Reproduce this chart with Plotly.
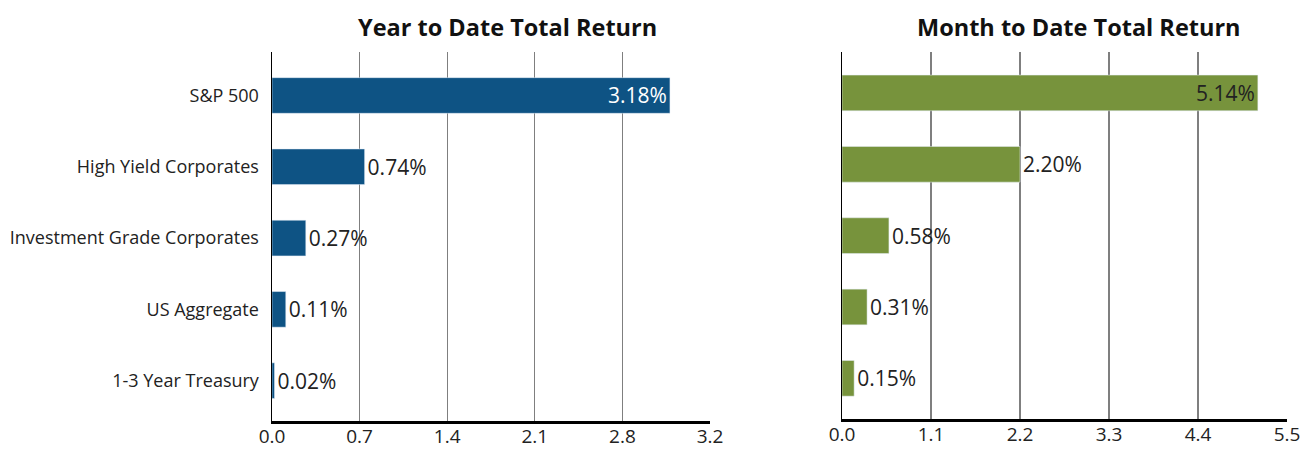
import plotly.graph_objects as go

categories = ["S&P 500", "High Yield Corporates", "Investment Grade Corporates",
              "US Aggregate", "1-3 Year Treasury"]
ytd_values = [3.18, 0.74, 0.27, 0.11, 0.02]
mtd_values = [5.14, 2.20, 0.58, 0.31, 0.15]
ytd_title = "Year to Date Total Return"
mtd_title = "Month to Date Total Return"
ytd_tickvals = [0, 0.7, 1.4, 2.1, 2.8, 3.5]
ytd_ticktext = ["0.0", "0.7", "1.4", "2.1", "2.8", "3.2"]
mtd_tickvals = [0, 1.1, 2.2, 3.3, 4.4, 5.5]
mtd_ticktext = ["0.0", "1.1", "2.2", "3.3", "4.4", "5.5"]

W, H = 1302, 449
FONT = "Open Sans"
TXT = "#222222"
BLUE = "#0E5384"
GREEN = "#77933C"

def px_x(a, b):
    return [a / W, b / W]

def px_y(top, bottom):
    return [1 - bottom / H, 1 - top / H]

fig = go.Figure()

ytd_pos = ["inside" if v == max(ytd_values) else "outside" for v in ytd_values]
mtd_pos = ["inside" if v == max(mtd_values) else "outside" for v in mtd_values]

fig.add_trace(go.Bar(
    x=ytd_values, y=categories, orientation="h", marker_color=BLUE, width=0.5,
    text=[f"{v:.2f}%" for v in ytd_values], textposition=ytd_pos,
    insidetextanchor="end", constraintext="none",
    insidetextfont=dict(family=FONT, size=21, color="white"),
    outsidetextfont=dict(family=FONT, size=21, color=TXT),
    cliponaxis=False, xaxis="x", yaxis="y", showlegend=False, hoverinfo="skip"))

fig.add_trace(go.Bar(
    x=mtd_values, y=categories, orientation="h", marker_color=GREEN, width=0.5,
    text=[f"{v:.2f}%" for v in mtd_values], textposition=mtd_pos,
    insidetextanchor="end", constraintext="none",
    insidetextfont=dict(family=FONT, size=21, color=TXT),
    outsidetextfont=dict(family=FONT, size=21, color=TXT),
    cliponaxis=False, xaxis="x2", yaxis="y2", showlegend=False, hoverinfo="skip"))

cat_order = list(reversed(categories))

xcommon = dict(showgrid=True, gridcolor="#7f7f7f", gridwidth=1.3, zeroline=False,
               showline=True, linecolor="black", linewidth=2.5, ticks="",
               tickfont=dict(family=FONT, size=19, color=TXT), ticklabelstandoff=-3,
               automargin=False, fixedrange=True)

fig.update_layout(
    width=W, height=H, margin=dict(l=0, r=0, t=0, b=0, autoexpand=False),
    paper_bgcolor="white", plot_bgcolor="white",
    font=dict(family=FONT, color=TXT),
    xaxis=dict(domain=px_x(272, 710), range=[0, 3.5], tickvals=ytd_tickvals,
               ticktext=ytd_ticktext, anchor="y", **xcommon),
    xaxis2=dict(domain=px_x(842, 1287), range=[0, 5.5], tickvals=mtd_tickvals,
                ticktext=mtd_ticktext, anchor="y2", **xcommon),
    yaxis=dict(domain=px_y(52, 421), type="category", categoryorder="array",
               categoryarray=cat_order, range=[-0.566, 4.61], anchor="x",
               showline=True, linecolor="black", linewidth=1.5, showgrid=False,
               ticks="", ticklabelstandoff=8, automargin=False,
               tickfont=dict(family=FONT, size=18, color=TXT), fixedrange=True),
    yaxis2=dict(domain=px_y(52, 419), type="category", categoryorder="array",
                categoryarray=cat_order, range=[-0.57, 4.574], anchor="x2",
                showline=True, linecolor="black", linewidth=1.5, showgrid=False,
                showticklabels=False, ticks="", automargin=False, fixedrange=True),
    annotations=[
        dict(text=f"<b>{ytd_title}</b>", x=507 / W, y=1 - 27 / H, xref="paper",
             yref="paper", xanchor="center", yanchor="middle", showarrow=False,
             font=dict(family=FONT, size=23.5, color="#111111")),
        dict(text=f"<b>{mtd_title}</b>", x=1079 / W, y=1 - 27 / H, xref="paper",
             yref="paper", xanchor="center", yanchor="middle", showarrow=False,
             font=dict(family=FONT, size=23.5, color="#111111")),
    ],
)

fig.write_html(
    "out.html",
    config={"displayModeBar": False, "staticPlot": True},
    post_script="document.body.style.margin='0';document.body.style.padding='0';"
                "document.body.style.overflow='hidden';",
)
